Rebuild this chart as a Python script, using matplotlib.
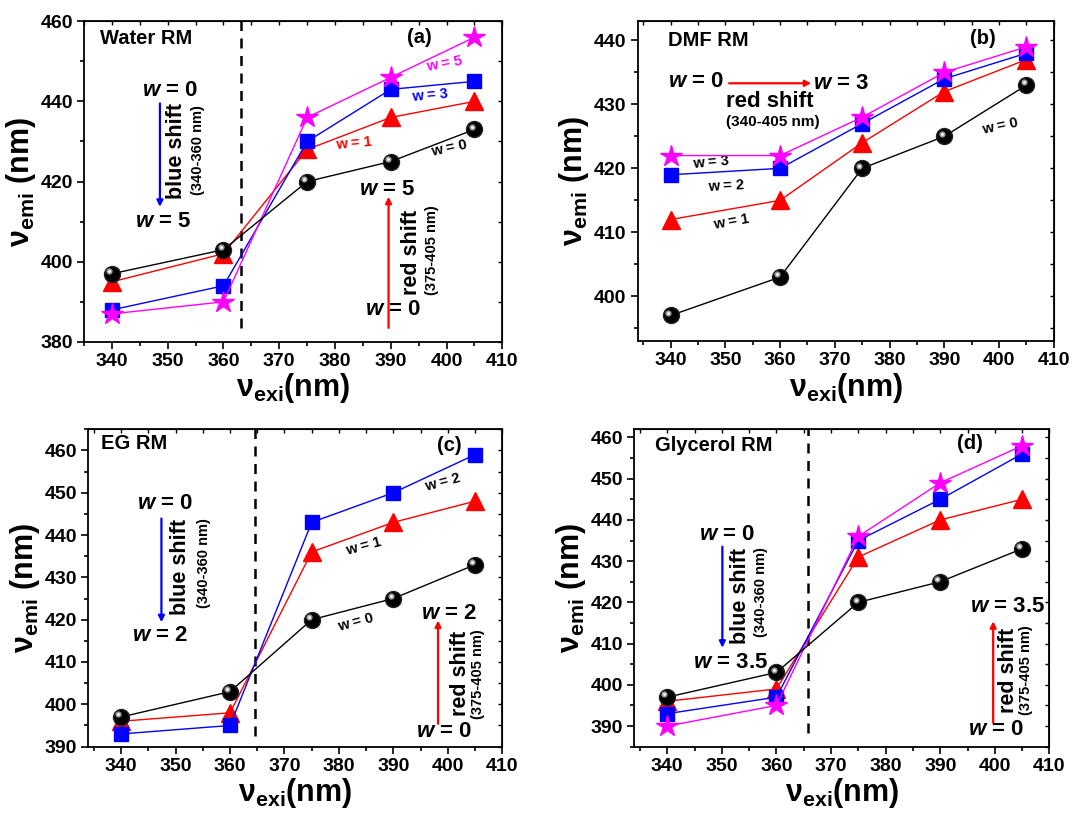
import numpy as np
import matplotlib
matplotlib.use("Agg")
import matplotlib.pyplot as plt
from matplotlib.ticker import MultipleLocator
from matplotlib.transforms import offset_copy

plt.rcParams['font.family'] = ['Liberation Sans', 'DejaVu Sans']
plt.rcParams['font.weight'] = 'bold'
plt.rcParams['mathtext.fontset'] = 'custom'
plt.rcParams['mathtext.rm'] = 'Liberation Sans:bold'
plt.rcParams['mathtext.bf'] = 'Liberation Sans:bold'
plt.rcParams['mathtext.it'] = 'Liberation Sans:italic:bold'

# excitation wavelengths (nm)
x_exi = [340, 360, 375, 390, 405]

# emission maxima (nm), one list per w value
water_w0 = [397, 403, 420, 425, 433]
water_w1 = [395, 402, 428, 436, 440]
water_w3 = [388, 394, 430, 443, 445]
water_w5 = [387, 390, 436, 446, 456]

dmf_w0 = [397, 403, 420, 425, 433]
dmf_w1 = [412, 415, 424, 432, 437]
dmf_w2 = [419, 420, 427, 434, 438]
dmf_w3 = [422, 422, 428, 435, 439]

eg_w0 = [397, 403, 420, 425, 433]
eg_w1 = [396, 398, 436, 443, 448]
eg_w2 = [393, 395, 443, 450, 459]

gly_w0 = [397, 403, 420, 425, 433]
gly_w1 = [396, 399, 431, 440, 445]
gly_w2 = [393, 397, 435, 445, 456]
gly_w35 = [390, 395, 436, 449, 458]

RED = '#ff0000'
BLUE = '#0000ff'
MAGENTA = '#ff00ff'

fig = plt.figure(figsize=(10.92, 8.16), dpi=100)


def make_axes(rect, xlim, ylim, ystep):
    ax = fig.add_axes(rect)
    ax.set_xlim(*xlim)
    ax.set_ylim(*ylim)
    ax.xaxis.set_major_locator(MultipleLocator(10))
    ax.xaxis.set_minor_locator(MultipleLocator(5))
    ax.yaxis.set_major_locator(MultipleLocator(ystep))
    ax.yaxis.set_minor_locator(MultipleLocator(ystep / 2))
    ax.tick_params(which='both', direction='out', labelsize=14, width=1.2, pad=3)
    ax.tick_params(which='major', length=5)
    ax.tick_params(which='minor', length=3)
    for lab in ax.get_xticklabels() + ax.get_yticklabels():
        lab.set_fontweight('bold')
    for s in ax.spines.values():
        s.set_linewidth(1.3)
    # small inward ticks on the top and right edges
    top = ax.secondary_xaxis('top')
    top.xaxis.set_major_locator(MultipleLocator(5))
    top.tick_params(direction='in', length=3, width=1, labeltop=False)
    right = ax.secondary_yaxis('right')
    right.yaxis.set_major_locator(MultipleLocator(ystep / 2))
    right.tick_params(direction='in', length=3, width=1, labelright=False)
    ax.set_xlabel('ν$_{\\mathregular{exi}}$(nm)', fontsize=22, fontweight='bold', labelpad=1)
    ax.set_ylabel('ν$_{\\mathregular{emi}}$ (nm)', fontsize=22, fontweight='bold', labelpad=2)
    return ax


def balls(ax, y):
    ax.plot(x_exi, y, color='black', lw=1, marker='o', ms=11.5,
            mfc='black', mec='#222222', zorder=5)
    hl = offset_copy(ax.transData, fig=fig, x=-2.0, y=2.0, units='points')
    ax.plot(x_exi, y, ls='none', marker='o', ms=4.5, mfc='#9a9a9a', mec='none',
            transform=hl, zorder=6)
    ax.plot(x_exi, y, ls='none', marker='o', ms=2, mfc='white', mec='none',
            transform=hl, zorder=7)


def tri(ax, y):
    ax.plot(x_exi, y, color=RED, lw=1, marker='^', ms=13, mfc=RED, mec=RED, zorder=4)


def sq(ax, y):
    ax.plot(x_exi, y, color=BLUE, lw=1, marker='s', ms=10, mfc=BLUE, mec=BLUE, zorder=4)


def star(ax, y):
    ax.plot(x_exi, y, color=MAGENTA, lw=1, marker='*', ms=16, mfc=MAGENTA, mec=MAGENTA, zorder=4)


def wtxt(ax, x, y, val, size=16, color='black', rot=0):
    ax.text(x, y, '$w$ = ' + val, fontsize=size, color=color, ha='center', va='center',
            fontweight='bold', rotation=rot)


def small(ax, x, y, s, color='black', rot=0):
    ax.text(x, y, 'w = ' + s, fontsize=10.5, color=color, ha='center', va='center',
            fontweight='bold', rotation=rot)


def arrow(ax, x0, y0, x1, y1, color):
    ax.annotate('', xy=(x1, y1), xytext=(x0, y0),
                arrowprops=dict(arrowstyle='-|>', color=color, lw=1.6,
                                mutation_scale=9, shrinkA=0, shrinkB=0))


def vtext(ax, x, y, s, size):
    ax.text(x, y, s, fontsize=size, rotation=90, ha='center', va='center',
            fontweight='bold')


# (a) Water RM
ax = make_axes([0.077, 0.581, 0.383, 0.393], (335, 410), (380, 460), 20)
ax.plot([363.2, 363.2], [383.5, 460], color='black', lw=1.8, ls=(0, (4, 3)))
balls(ax, water_w0)
tri(ax, water_w1)
sq(ax, water_w3)
star(ax, water_w5)
ax.text(337.8, 455.6, 'Water RM', fontsize=14.5, fontweight='bold', va='center')
ax.text(395.1, 456, '(a)', fontsize=14.5, fontweight='bold', ha='center', va='center')
wtxt(ax, 350.4, 442.8, '0')
arrow(ax, 348.6, 439.5, 348.6, 413.7, BLUE)
vtext(ax, 351.6, 427.6, 'blue shift', 15.5)
vtext(ax, 355.4, 427.8, '(340-360 nm)', 10.5)
wtxt(ax, 349.2, 410, '5')
wtxt(ax, 389.3, 417.9, '5')
arrow(ax, 389.6, 383.5, 389.6, 416.2, RED)
vtext(ax, 393.8, 402.3, 'red shift', 15.5)
vtext(ax, 397.4, 402.8, '(375-405 nm)', 10.5)
wtxt(ax, 390.5, 388, '0')
small(ax, 399.5, 449.4, '5', MAGENTA, 10)
small(ax, 397.0, 441.5, '3', BLUE, 5)
small(ax, 383.3, 429.5, '1', RED, 5)
small(ax, 400.4, 428.3, '0', 'black', 12)

# (b) DMF RM
ax = make_axes([0.584, 0.582, 0.381, 0.392], (334, 410), (393, 443), 10)
balls(ax, dmf_w0)
tri(ax, dmf_w1)
sq(ax, dmf_w2)
star(ax, dmf_w3)
ax.text(339.5, 440, 'DMF RM', fontsize=14.5, fontweight='bold', va='center')
ax.text(397.1, 440.3, '(b)', fontsize=14.5, fontweight='bold', ha='center', va='center')
wtxt(ax, 344.7, 433.5, '0')
arrow(ax, 350.7, 433.3, 365.7, 433.3, RED)
wtxt(ax, 371.2, 433.3, '3')
ax.text(358.2, 430.4, 'red shift', fontsize=16, ha='center', va='center', fontweight='bold')
ax.text(358.6, 427.2, '(340-405 nm)', fontsize=11, ha='center', va='center', fontweight='bold')
small(ax, 347.4, 421.0, '3', 'black', 5)
small(ax, 350.2, 417.3, '2', 'black', 3)
small(ax, 351.1, 411.6, '1', 'black', 10)
small(ax, 400.2, 426.5, '0', 'black', 12)

# (c) EG RM
ax = make_axes([0.081, 0.085, 0.379, 0.389], (334, 410), (390, 465), 10)
ax.plot([364.5, 364.5], [392.4, 465], color='black', lw=1.8, ls=(0, (4, 3)))
balls(ax, eg_w0)
tri(ax, eg_w1)
sq(ax, eg_w2)
ax.text(336.3, 461.6, 'EG RM', fontsize=14.5, fontweight='bold', va='center')
ax.text(400.2, 461.2, '(c)', fontsize=14.5, fontweight='bold', ha='center', va='center')
wtxt(ax, 348.1, 447.4, '0')
arrow(ax, 347.4, 443.9, 347.4, 419.4, BLUE)
vtext(ax, 350.9, 432.4, 'blue shift', 15.5)
vtext(ax, 355.2, 433.4, '(340-360 nm)', 10.5)
wtxt(ax, 347.2, 416.3, '2')
wtxt(ax, 400.2, 421.4, '2')
arrow(ax, 398.2, 395.4, 398.2, 419.8, RED)
vtext(ax, 402.4, 407.2, 'red shift', 15.5)
vtext(ax, 405.5, 407.2, '(375-405 nm)', 10.5)
wtxt(ax, 399.3, 393.5, '0')
small(ax, 399.0, 452.5, '2', 'black', 15)
small(ax, 384.6, 437.2, '1', 'black', 15)
small(ax, 383.1, 419.4, '0', 'black', 15)

# (d) Glycerol RM
ax = make_axes([0.581, 0.085, 0.380, 0.389], (334, 410), (385, 462), 10)
ax.plot([365.8, 365.8], [388.4, 462], color='black', lw=1.8, ls=(0, (4, 3)))
balls(ax, gly_w0)
tri(ax, gly_w1)
sq(ax, gly_w2)
star(ax, gly_w35)
ax.text(337.7, 458.1, 'Glycerol RM', fontsize=14.5, fontweight='bold', va='center')
ax.text(395.5, 458.5, '(d)', fontsize=14.5, fontweight='bold', ha='center', va='center')
wtxt(ax, 350.9, 436.4, '0')
arrow(ax, 350.1, 433.5, 350.1, 409.0, BLUE)
vtext(ax, 353.4, 421.6, 'blue shift', 15.5)
vtext(ax, 357.1, 422.4, '(340-360 nm)', 10.5)
wtxt(ax, 351.5, 405.3, '3.5')
wtxt(ax, 402.3, 419.0, '3.5')
arrow(ax, 399.7, 390.8, 399.7, 415.4, RED)
vtext(ax, 402.5, 403.6, 'red shift', 15.5)
vtext(ax, 405.8, 403.6, '(375-405 nm)', 10.5)
wtxt(ax, 400.3, 389.2, '0')

fig.savefig('out.png', dpi=100)
